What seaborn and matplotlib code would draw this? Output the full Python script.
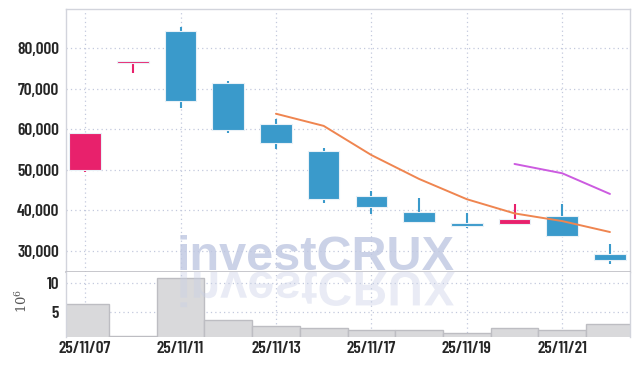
import numpy as np
import pandas as pd
import matplotlib
matplotlib.use("Agg")
import matplotlib.pyplot as plt
import seaborn as sns
from matplotlib.textpath import TextPath
from matplotlib.patches import PathPatch
from matplotlib.font_manager import FontProperties
from matplotlib.transforms import Affine2D, IdentityTransform
from matplotlib.ticker import FuncFormatter

# daily candles
dates = ['25/11/07', '25/11/10', '25/11/11', '25/11/12', '25/11/13', '25/11/14',
         '25/11/17', '25/11/18', '25/11/19', '25/11/20', '25/11/21', '25/11/24']
open_ = [50000, 76300, 84200, 71300, 61200, 54500, 43500, 39600, 36900, 36500, 38600, 29200]
close = [59000, 76800, 67000, 59700, 56500, 42700, 40800, 37100, 36100, 37800, 33600, 27700]
high = [59000, 76800, 85200, 71800, 62400, 55400, 44800, 43100, 39400, 41500, 41500, 31600]
low = [49300, 73800, 65300, 59100, 55100, 41800, 39000, 37100, 35700, 36500, 33600, 26600]
volume = [6.3, 0.7, 10.9, 3.5, 2.5, 2.1, 1.7, 1.7, 1.2, 2.1, 1.7, 2.8]  # x 10^6
ma5 = [np.nan, np.nan, np.nan, np.nan, 63800, 60800, 53600, 47700, 42700, 39200, 37300, 34600]
ma10 = [np.nan] * 9 + [51400, 49100, 44000]

UP = '#e8216c'
DOWN = '#3a9acb'
GRID = '#c3c9dd'
font = ['Barlow Condensed', 'DejaVu Sans']

sns.set_style("white")
plt.rcParams['font.family'] = font
plt.rcParams['mathtext.fontset'] = 'dejavuserif'

fig = plt.figure(figsize=(6.39, 3.66), dpi=100)
ax = fig.add_axes([0.1033, 0.2568, 0.8826, 0.7186])
axv = fig.add_axes([0.1033, 0.0792, 0.8826, 0.1776], sharex=ax)

df = pd.DataFrame({'date': dates, 'open': open_, 'close': close, 'high': high,
                   'low': low, 'volume': volume, 'ma5': ma5, 'ma10': ma10})
df['pos'] = np.arange(len(df))
df['color'] = np.where(df['close'] >= df['open'], UP, DOWN)

# volume
sns.barplot(data=df, x='date', y='volume', ax=axv, width=1, color='#d9d9db',
            edgecolor='#bdbdc2', linewidth=1, saturation=1, zorder=2)

# candles
ax.vlines(df['pos'], df['low'], df['high'], colors=df['color'], lw=1.5, zorder=3)
ax.bar(df['pos'], df['close'] - df['open'], bottom=df['open'], width=0.66,
       color=df['color'], edgecolor='#e9f1f7', linewidth=0.8, zorder=4)

# moving averages
sns.lineplot(data=df.dropna(subset=['ma5']), x='pos', y='ma5', ax=ax,
             color='#ef8550', lw=1.4, zorder=5)
sns.lineplot(data=df.dropna(subset=['ma10']), x='pos', y='ma10', ax=ax,
             color='#cc5be0', lw=1.4, zorder=5)

ax.set_ylim(24730, 89650)
ax.set_yticks([30000, 40000, 50000, 60000, 70000, 80000])
ax.yaxis.set_major_formatter(FuncFormatter(lambda v, p: f'{int(v):,}'))
axv.set_ylim(0.5, 12)
axv.set_yticks([5, 10])
axv.set_xlim(-0.4, 11.42)
axv.set_xticks(range(0, 12, 2))
axv.set_xticklabels(dates[::2])
plt.setp(ax.get_xticklabels(), visible=False)

for a in (ax, axv):
    a.set_xlabel('')
    a.set_ylabel('')
    a.grid(True, color=GRID, linestyle=(0, (1, 2.5)), linewidth=0.9)
    a.set_axisbelow(True)
    a.tick_params(length=0, labelsize=12.5, labelcolor='#262626', pad=5)
    for lab in a.get_xticklabels() + a.get_yticklabels():
        lab.set_fontweight(600)
    for s in a.spines.values():
        s.set_color('#d2d4dc')
        s.set_linewidth(1)
ax.spines['bottom'].set_color('#bdbdc3')
ax.spines['bottom'].set_linewidth(1.2)
axv.spines['top'].set_visible(False)
axv.spines['bottom'].set_visible(False)
axv.tick_params(axis='x', pad=3)

axv.set_ylabel('$10^{6}$', fontsize=9.5, color='#555555', rotation=90)
axv.yaxis.set_label_coords(-0.064, 0.55)

# watermark with mirrored reflection
fig.text(177 / 639, 96 / 366, 'investCRUX', fontsize=35, fontweight='bold',
         family='Liberation Sans', color='#bfc7e1', alpha=0.8, va='baseline',
         ha='left', zorder=10)
tp = TextPath((0, 0), 'investCRUX', size=35 * 100 / 72,
              prop=FontProperties(family='Liberation Sans', weight='bold'))
refl = PathPatch(tp, facecolor='#c8cfe6', edgecolor='none', alpha=0.4,
                 transform=Affine2D().scale(1, -1).translate(177, 94) + IdentityTransform(),
                 zorder=10)
fig.add_artist(refl)

fig.savefig('out.png', dpi=100)
